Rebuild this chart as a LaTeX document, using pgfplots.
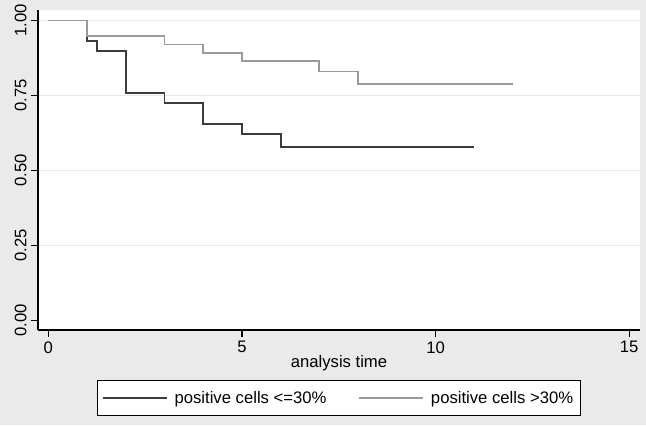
\documentclass[border=0pt]{standalone}
\usepackage{fontspec}
\setmainfont{Liberation Sans}
\usepackage{pgfplots}
\pgfplotsset{compat=1.18}
\definecolor{bggray}{HTML}{EAEAEA}
\definecolor{gridgray}{HTML}{E8E8E8}
\definecolor{darkline}{HTML}{3C3C3C}
\definecolor{lightline}{HTML}{9A9A9A}
\begin{document}
\begin{tikzpicture}
\fill[bggray] (0,0) rectangle (484.5pt,318.75pt);
\useasboundingbox (0,0) rectangle (484.5pt,318.75pt);
\begin{axis}[
    at={(28.5pt,71.25pt)}, anchor=south west,
    scale only axis, width=451.5pt, height=240pt,
    xmin=-0.266, xmax=15.28,
    ymin=-0.032, ymax=1.035,
    axis background/.style={fill=white},
    axis x line*=bottom, axis y line*=left,
    axis line style={-, black, line width=0.9pt},
    xtick={0,5,10,15},
    ytick={0,0.25,0.5,0.75,1},
    minor ytick={0.25,0.5,0.75,1},
    yminorgrids,
    minor grid style={gridgray, line width=0.9pt},
    minor tick length=0pt,
    tick align=outside,
    major tick length=5pt,
    tick style={black, line width=0.9pt},
    /pgf/number format/assume math mode=true,
    yticklabel style={rotate=90, anchor=south, font=\fontsize{12.5}{15}\selectfont,
        /pgf/number format/.cd, fixed, fixed zerofill, precision=2},
    xticklabel style={font=\fontsize{12.5}{15}\selectfont},
    xlabel={analysis time},
    xlabel style={font=\fontsize{12.5}{15}\selectfont, yshift=5pt},
    legend columns=2,
    legend style={at={(0.5,-0.156)}, anchor=north, draw=black, line width=0.7pt,
        fill=white, font=\fontsize{12.5}{15}\selectfont,
        inner xsep=3.5pt, inner ysep=6pt,
        /tikz/every even column/.append style={column sep=22pt}},
    legend image code/.code={\draw[#1, line width=1.3pt] (0pt,0pt) -- (48pt,0pt);
        \path (51pt,0pt);},
]
\addplot[const plot, darkline, line width=1.4pt] coordinates {
    (0,1) (1,0.931) (1.25,0.897) (2,0.759) (3,0.724) (4,0.655)
    (5,0.621) (6,0.578) (11,0.578)
};
\addlegendentry{positive cells <=30\%}
\addplot[const plot, lightline, line width=1.4pt] coordinates {
    (0,1) (1,0.947) (3,0.92) (4,0.893) (5,0.865) (7,0.83)
    (8,0.787) (12,0.787)
};
\addlegendentry{positive cells >30\%}
\end{axis}
\end{tikzpicture}
\end{document}
